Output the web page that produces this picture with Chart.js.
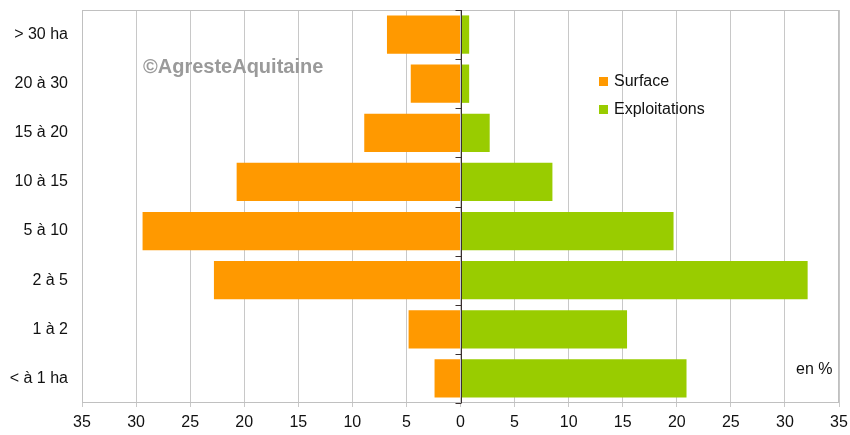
<!DOCTYPE html>
<html>
<head>
<meta charset="utf-8">
<script src="https://cdn.jsdelivr.net/npm/chart.js@4/dist/chart.umd.min.js"></script>
<style>
  html, body { margin: 0; padding: 0; background: #fff; }
  #wrap { width: 850px; height: 435px; }
</style>
</head>
<body>
<div id="wrap"><canvas id="pyramide"></canvas></div>
<script>
// classes de SAU, du haut vers le bas
var classes = ['> 30 ha', '20 à 30', '15 à 20', '10 à 15', '5 à 10', '2 à 5', '1 à 2', '< à 1 ha'];
// en %
var surface = [6.8, 4.6, 8.9, 20.7, 29.4, 22.8, 4.8, 2.4];
var exploitations = [0.8, 0.8, 2.7, 8.5, 19.7, 32.1, 15.4, 20.9];
var xTicks = [-35, -30, -25, -20, -15, -10, -5, 0, 5, 10, 15, 20, 25, 30, 35];

var orange = '#FF9900';
var vert = '#99CC00';
var police = '"Liberation Sans", Arial, sans-serif';

// cadre, axe zéro, légende et mentions
var decor = {
    id: 'decor',
    afterDatasetsDraw: function (chart) {
        var c = chart.ctx, a = chart.chartArea;
        var sx = chart.scales.x;
        c.save();
        c.strokeStyle = '#c0c0c0';
        c.lineWidth = 1;
        c.strokeRect(a.left + 0.5, a.top + 0.5, a.right - a.left - 1, a.bottom - a.top - 1);

        var x0 = Math.round(sx.getPixelForValue(0)) + 0.5;
        c.strokeStyle = '#3a3030';
        c.beginPath();
        c.moveTo(x0, a.top);
        c.lineTo(x0, a.bottom);
        var pas = (a.bottom - a.top) / classes.length;
        for (var i = 0; i <= classes.length; i++) {
            var y = Math.round(a.top + i * pas) + 0.5;
            c.moveTo(x0 - 6, y);
            c.lineTo(x0, y);
        }
        c.stroke();

        c.font = 'bold 20px ' + police;
        c.fillStyle = '#9a9a9a';
        c.textBaseline = 'middle';
        c.fillText('©AgresteAquitaine', 143, 67);

        c.font = '16px ' + police;
        chart.data.datasets.forEach(function (ds, k) {
            var yy = 82 + k * 28;
            c.fillStyle = ds.backgroundColor;
            c.fillRect(599, yy - 5, 9, 9);
            c.fillStyle = '#111';
            c.fillText(ds.label, 614, yy);
        });
        c.fillStyle = '#111';
        c.fillText('en %', 796, 370);
        c.restore();
    }
};

new Chart(document.getElementById('pyramide'), {
    type: 'bar',
    data: {
        labels: classes,
        datasets: [{
            label: 'Surface',
            data: surface.map(function (v) { return -v; }),
            backgroundColor: orange,
            barPercentage: 0.78,
            categoryPercentage: 1
        }, {
            label: 'Exploitations',
            data: exploitations,
            backgroundColor: vert,
            barPercentage: 0.78,
            categoryPercentage: 1
        }]
    },
    options: {
        indexAxis: 'y',
        responsive: true,
        maintainAspectRatio: false,
        animation: false,
        layout: { padding: { top: 10, right: 11, left: 0, bottom: 0 } },
        plugins: {
            legend: { display: false },
            tooltip: { enabled: false }
        },
        scales: {
            x: {
                stacked: true,
                min: -35,
                max: 35,
                afterBuildTicks: function (scale) {
                    scale.ticks = xTicks.map(function (v) { return { value: v }; });
                },
                ticks: {
                    callback: function (v) { return Math.abs(v); },
                    font: { family: police, size: 16 },
                    color: '#111',
                    padding: 6,
                    maxRotation: 0
                },
                grid: { color: '#c8c8c8', tickLength: 4 },
                border: { display: false },
                afterFit: function (scale) {
                    scale.height = 32;
                    scale.paddingLeft = 0;
                    scale.paddingRight = 0;
                }
            },
            y: {
                stacked: true,
                ticks: {
                    font: { family: police, size: 16 },
                    color: '#111',
                    padding: 14
                },
                grid: { display: false, drawTicks: false },
                border: { display: false },
                afterFit: function (scale) {
                    scale.width = 82;
                    scale.paddingTop = 0;
                    scale.paddingBottom = 0;
                }
            }
        }
    },
    plugins: [decor]
});
</script>
</body>
</html>
